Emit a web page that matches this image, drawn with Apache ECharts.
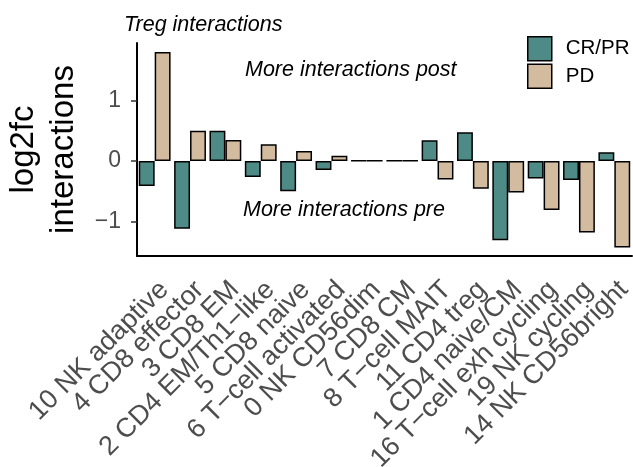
<!DOCTYPE html>
<html>
<head>
<meta charset="utf-8">
<script src="https://cdn.jsdelivr.net/npm/echarts@6/dist/echarts.min.js"></script>
<style>html,body{margin:0;padding:0;background:#fff}#c{width:633px;height:467px}</style>
</head>
<body>
<div id="c"></div>
<script>
const categories = ["10 NK adaptive","4 CD8 effector","3 CD8 EM","2 CD4 EM/Th1\u2212like","5 CD8 naive","6 T\u2212cell activated","0 NK CD56dim","7 CD8 CM","8 T\u2212cell MAIT","11 CD4 treg","1 CD4 naive/CM","16 T\u2212cell exh cycling","19 NK cycling","14 NK CD56bright"];
const crpr = [-0.415,-1.125,0.50,-0.266,-0.50,-0.15,0,0,0.343,0.476,-1.313,-0.288,-0.316,0.144];
const pd = [1.806,0.50,0.35,0.277,0.166,0.089,0,0,-0.305,-0.46,-0.52,-0.814,-1.186,-1.435];
const yTicks = [-1,0,1];
const seriesNames = ["CR/PR","PD"];
const colors = ["#4E8B87","#D3BB9F"];
const FONT = "Liberation Sans";

const chart = echarts.init(document.getElementById('c'));
chart.setOption({
  animation:false,
  textStyle:{fontFamily:FONT},
  grid:{left:137,right:1,top:43,bottom:211,containLabel:false,outerBoundsMode:'none'},
  title:{text:"Treg interactions",left:119,top:9,textStyle:{fontFamily:FONT,fontStyle:'italic',fontWeight:'normal',fontSize:21.5,color:'#000'}},
  legend:{
    orient:'vertical',left:527,top:36,itemWidth:24,itemHeight:24,itemGap:2,padding:0,
    textStyle:{fontFamily:FONT,fontSize:20.5,color:'#000',padding:[0,0,0,9]},
    data:seriesNames.map((n,i)=>({name:n,icon:'rect',itemStyle:{color:colors[i],borderColor:'#000',borderWidth:1.5}}))
  },
  graphic:[
    {type:'text',left:245,top:59,style:{text:'More interactions post',font:'italic 21.5px "Liberation Sans"',fill:'#000'}},
    {type:'text',left:243,top:199,style:{text:'More interactions pre',font:'italic 21.5px "Liberation Sans"',fill:'#000'}}
  ],
  xAxis:{
    type:'category',data:categories,
    axisLine:{onZero:false,lineStyle:{color:'#000',width:2}},
    axisTick:{alignWithLabel:true,length:6,lineStyle:{color:'#333',width:1.5}},
    axisLabel:{rotate:45,interval:0,fontSize:27,color:'#4d4d4d',margin:20,align:'right',verticalAlign:'top',fontFamily:FONT}
  },
  yAxis:{
    type:'value',min:-1.575,max:1.957,
    name:'log2fc\ninteractions',nameLocation:'middle',nameRotate:90,nameGap:53,
    nameTextStyle:{fontSize:33,color:'#000',lineHeight:40,fontFamily:FONT},
    splitLine:{show:false},
    axisLine:{show:true,lineStyle:{color:'#000',width:2}},
    axisTick:{show:true,length:6,lineStyle:{color:'#333',width:1.5},customValues:yTicks},
    axisLabel:{fontSize:23,color:'#4d4d4d',margin:16,customValues:yTicks,formatter:v=>String(v).replace('-','\u2212'),fontFamily:FONT}
  },
  series:[
    {name:seriesNames[0],type:'bar',data:crpr,barGap:'0%',barCategoryGap:'10%',barMinHeight:0.3,itemStyle:{color:colors[0],borderColor:'#000',borderWidth:1.5}},
    {name:seriesNames[1],type:'bar',data:pd,barGap:'0%',barCategoryGap:'10%',barMinHeight:0.3,itemStyle:{color:colors[1],borderColor:'#000',borderWidth:1.5}}
  ]
});
</script>
</body>
</html>
